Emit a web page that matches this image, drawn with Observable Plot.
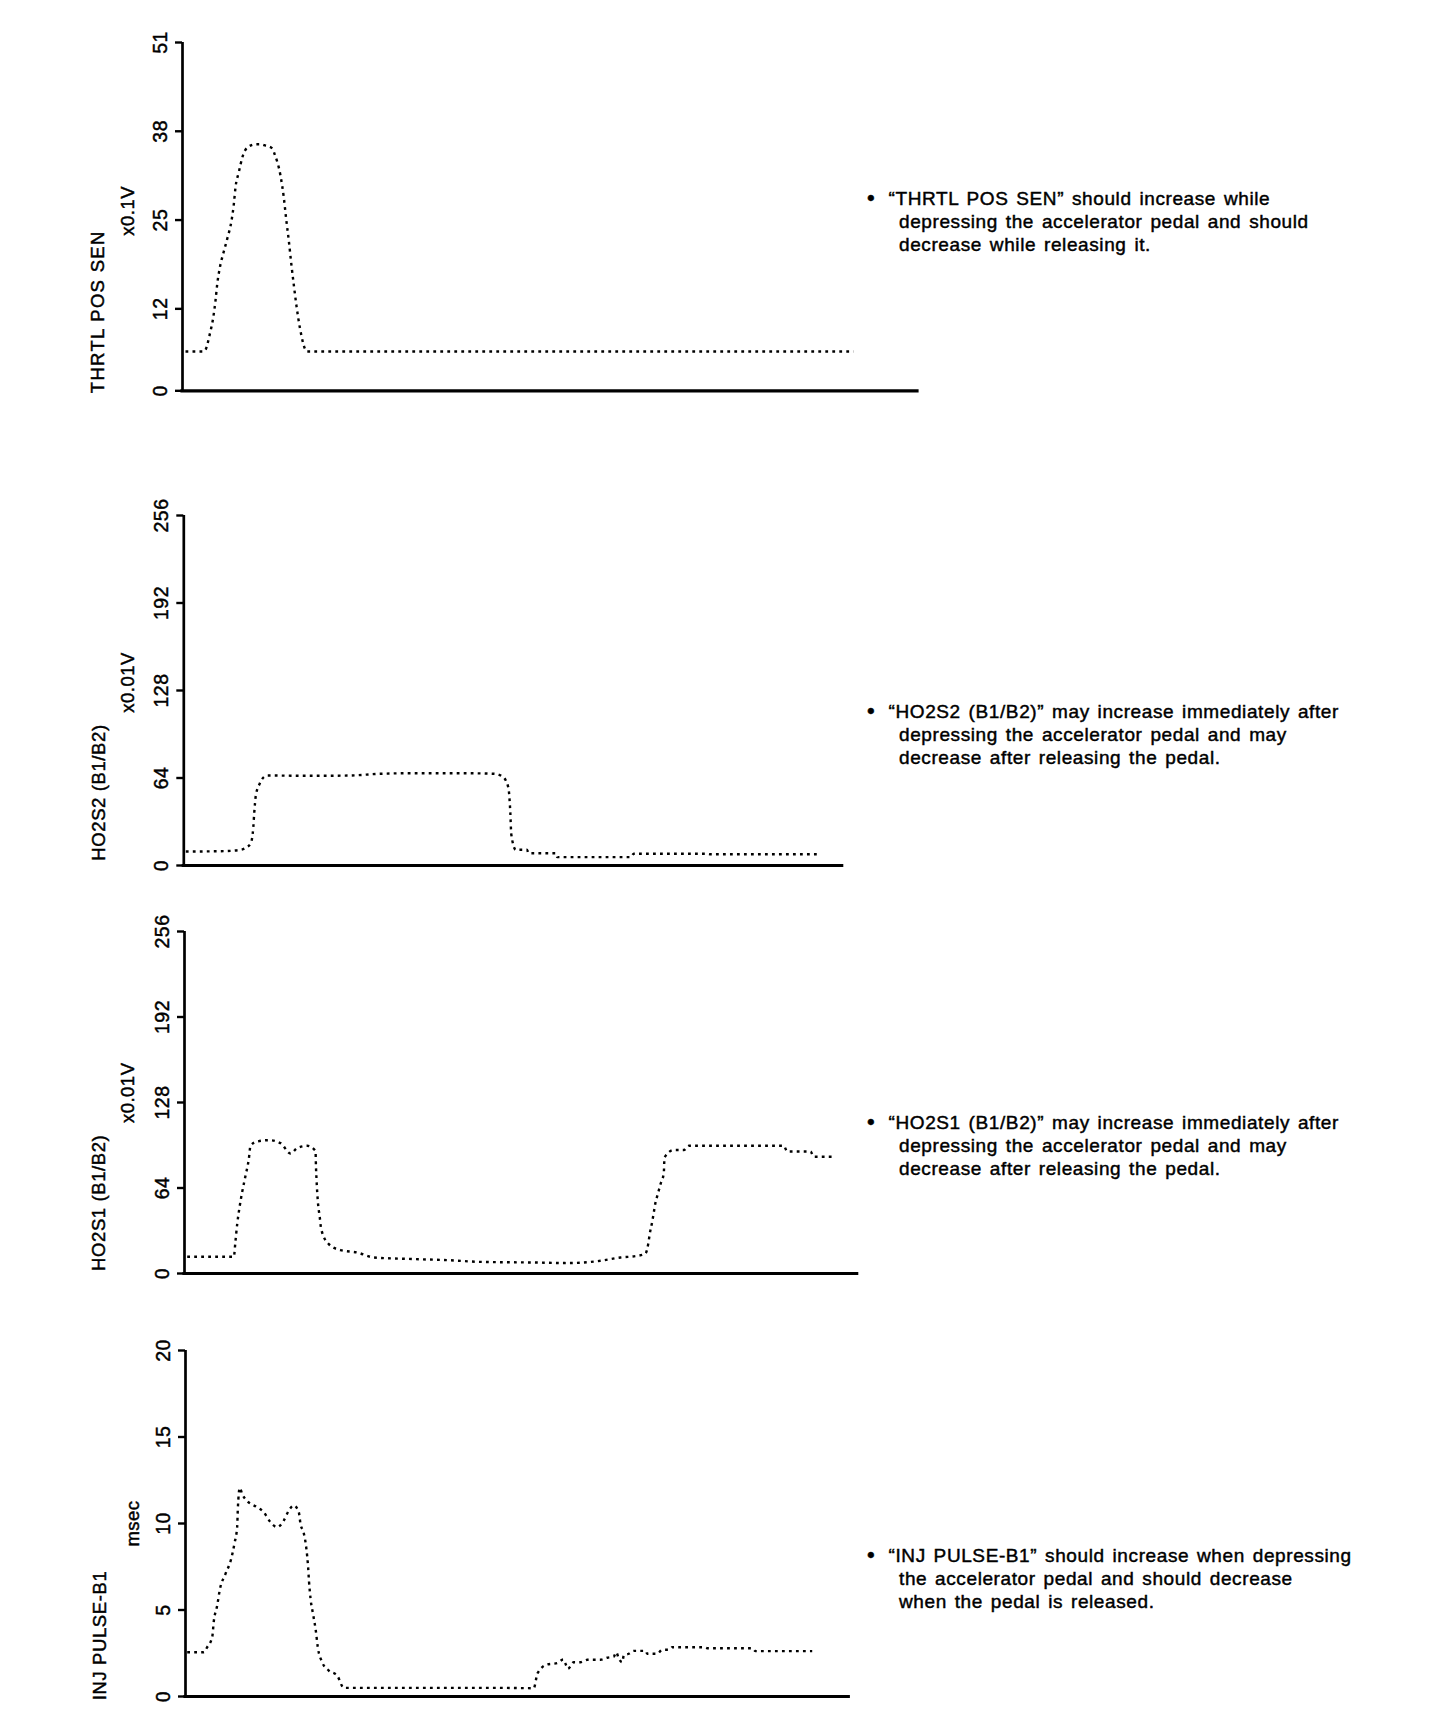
<!DOCTYPE html>
<html>
<head>
<meta charset="utf-8">
<script src="https://cdn.jsdelivr.net/npm/d3@7"></script>
<script src="https://cdn.jsdelivr.net/npm/@observablehq/plot@0.6"></script>
<style>
html, body { margin: 0; padding: 0; background: #fff; }
body { width: 1440px; height: 1732px; position: relative; overflow: hidden;
       font-family: "Liberation Sans", Arial, Helvetica, sans-serif; color: #000; }
.panel { position: absolute; left: 0; }
.panel svg text { stroke: #000; stroke-width: 0.45px; }
.note { position: absolute; font-size: 19px; line-height: 23px; letter-spacing: 0.6px;
        word-spacing: 2px; white-space: nowrap; -webkit-text-stroke: 0.45px #000; }
.note .line1 { margin-left: -10.5px; }
.note .bullet { position: absolute; left: -32px; top: -1px; font-size: 22px; }
</style>
</head>
<body>
<script>
// ---- data (time in sample units along each trace, value in the panel's unit) ----
const thrtlT = [3,21,23,27.3,30.7,33,34.7,37.3,41.3,45,49,51.3,53,56.3,60.3,64.7,73,78,83,89.7,92,98,101.3,103.7,106.3,108.7,111.3,114,117.3,124.7,671];
const thrtlV = [5.75,5.75,6.0,8.3,10.7,13.2,15.6,18.0,20.4,22.4,24.9,27.3,29.8,32.0,34.4,35.6,36.1,36.1,35.9,35.5,34.7,31.5,28.3,25.1,22.0,18.7,15.5,12.4,9.3,5.75,5.75];

const ho2s2T = [2,40,57,63,67,69.5,70.5,72,76,80,84,130,165,197,230,280,310,317,322,324,325,326.5,327.5,332,343,345,372,373.5,447,450,523,527,636];
const ho2s2V = [10.2,10.5,11.5,13.4,16.3,28,39,51,60,64.6,65.8,65.6,65.8,67.1,67.5,67.5,67.1,65.8,62.2,58.5,54.9,39,22.7,11.5,11.5,9.0,9.0,6.1,6.1,8.6,8.6,8.2,8.2];

const ho2s1T = [2.7,49.3,51,52.7,55,57.7,61,64.3,66,72.7,84.3,96,106,112.7,122.7,131,131.5,132,133.3,135.3,136.7,144.3,156,172.7,189.3,229.3,262.7,296,352.7,382.7,416,436,452.7,461,463.7,465.3,467.7,469.3,471,473.3,476,479.3,480,489.3,499.3,504.3,599.3,602.7,626,629.3,647.7];
const ho2s1V = [12.5,12.5,24.5,37,49.4,61.1,73.1,85.6,95.6,98.8,99.8,97.6,89.8,93.9,95.6,91.8,79.3,70.7,54.4,41.9,33.2,22,17.5,15.7,12,10.8,10,8.7,8.2,7.8,9.5,12,13.2,15,22,29.9,38.7,45.7,53.1,59.4,66.9,75.1,86.8,92.4,92.4,95.6,95.6,91.3,91.3,87.4,87.4];

const injT = [1.7,18.3,21.7,26.7,28.3,31.7,34.3,40,45.7,49,51.7,52.3,54.3,56.7,61.7,71.7,78.3,85,91.7,98.3,103.3,108.3,113.3,115,118.3,121,122.5,123.5,125,127.7,130.3,132.3,136.7,143.3,151.7,158.3,311.7,348.3,351,351.7,361.7,371.7,377.7,380,382.3,388.3,395,401.7,415,421.7,428.3,430.7,433.3,436.7,438.3,443.3,448.3,460,461.7,471.7,476.7,483.3,486.7,518.3,521.7,566.7,570,626.7];
const injV = [2.56,2.56,2.85,3.43,4.35,5.26,6.17,7.09,7.96,8.86,9.83,10.8,12.06,11.7,11.3,10.94,10.65,10.07,9.79,10.17,10.75,11.04,10.65,9.98,9.44,8.48,7.57,6.66,5.68,4.72,3.81,2.85,1.98,1.5,1.21,0.5,0.5,0.48,1.12,1.31,1.85,1.93,2.14,1.89,1.6,1.98,1.98,2.12,2.12,2.24,2.31,2.56,2.2,1.98,2.37,2.47,2.64,2.64,2.47,2.47,2.7,2.7,2.85,2.85,2.79,2.79,2.62,2.62];

const thrtlTicks = [0, 12, 25, 38, 51];
const ho2Ticks = [0, 64, 128, 192, 256];
const injTicks = [0, 5, 10, 15, 20];

const labels = ["THRTL POS SEN", "HO2S2 (B1/B2)", "HO2S1 (B1/B2)", "INJ PULSE-B1"];
const units = ["x0.1V", "x0.01V", "x0.01V", "msec"];

const notes = [
  ["\u201CTHRTL POS SEN\u201D should increase while", "depressing the accelerator pedal and should", "decrease while releasing it."],
  ["\u201CHO2S2 (B1/B2)\u201D may increase immediately after", "depressing the accelerator pedal and may", "decrease after releasing the pedal."],
  ["\u201CHO2S1 (B1/B2)\u201D may increase immediately after", "depressing the accelerator pedal and may", "decrease after releasing the pedal."],
  ["\u201CINJ PULSE-B1\u201D should increase when depressing", "the accelerator pedal and should decrease", "when the pedal is released."]
];

// ---- layout ----
const panels = [
  {t: thrtlT, v: thrtlV, ticks: thrtlTicks, span: 735,   axisX: 182,   top: 41.7,  bottom: 390,    xEnd: 917,
   labelX: 103, labelCY: 311, unitX: 133, unitCY: 210, noteBase: 205, labelSpacing: 1.3},
  {t: ho2s2T, v: ho2s2V, ticks: ho2Ticks,   span: 658.4, axisX: 183.3, top: 515,   bottom: 865,    xEnd: 841.7,
   labelX: 104, labelCY: 792, unitX: 133, unitCY: 682, noteBase: 718.3, labelSpacing: 0.6},
  {t: ho2s1T, v: ho2s1V, ticks: ho2Ticks,   span: 672.7, axisX: 184,   top: 930.7, bottom: 1272.7, xEnd: 856.7,
   labelX: 104, labelCY: 1202, unitX: 133, unitCY: 1092, noteBase: 1129.5, labelSpacing: 0.6},
  {t: injT,   v: injV,   ticks: injTicks,   span: 663.3, axisX: 185,   top: 1350,  bottom: 1696,   xEnd: 848.3,
   labelX: 105, labelCY: 1635, unitX: 138, unitCY: 1523, noteBase: 1562.3, labelSpacing: 0.6}
];

const M = 20;
panels.forEach((p, i) => {
  const data = p.t.map((t, k) => ({t, v: p.v[k]}));
  const yMax = p.ticks[p.ticks.length - 1];
  const chart = Plot.plot({
    width: 1440,
    height: (p.bottom - p.top) + 2 * M,
    marginTop: M,
    marginBottom: M,
    marginLeft: p.axisX,
    marginRight: 1440 - p.xEnd,
    style: {fontFamily: "'Liberation Sans', Arial, Helvetica, sans-serif", background: "white", color: "black", letterSpacing: "0.5px"},
    x: {domain: [0, p.span], axis: null},
    y: {domain: [0, yMax], axis: null},
    marks: [
      Plot.axisY({ticks: p.ticks, tickFormat: d => String(d), tickSize: 7, tickRotate: -90, tickPadding: 9,
                  fontSize: 19.5, strokeWidth: 2.4, label: null}),
      Plot.ruleX([0], {strokeWidth: 2.7, stroke: "black"}),
      Plot.ruleY([0], {strokeWidth: 3.2, stroke: "black", strokeLinecap: "square"}),
      Plot.line(data, {x: "t", y: "v", stroke: "black", strokeWidth: 2.4, strokeDasharray: "2.8,4.2",
                       strokeLinecap: "butt", curve: "monotone-x"}),
      Plot.text([labels[i]], {text: d => d, frameAnchor: "bottom-left", rotate: -90, textAnchor: "middle",
                 lineAnchor: "bottom", dx: p.labelX - p.axisX, dy: p.labelCY - p.bottom, fontSize: 18.5, fill: "black",
                 style: `letter-spacing:${p.labelSpacing}px`}),
      Plot.text([units[i]], {text: d => d, frameAnchor: "bottom-left", rotate: -90, textAnchor: "middle",
                 lineAnchor: "bottom", dx: p.unitX - p.axisX, dy: p.unitCY - p.bottom, fontSize: 18.5, fill: "black"})
    ]
  });
  chart.querySelectorAll("text").forEach(t => {
    if (t.textContent === labels[i]) t.style.letterSpacing = p.labelSpacing + "px";
  });
  const wrap = document.createElement("div");
  wrap.className = "panel";
  wrap.style.top = (p.top - M) + "px";
  wrap.appendChild(chart);
  document.body.appendChild(wrap);

  const note = document.createElement("div");
  note.className = "note";
  note.style.left = "899px";
  note.style.top = (p.noteBase - 18.1) + "px";
  const b = document.createElement("span");
  b.className = "bullet";
  b.textContent = "\u2022";
  note.appendChild(b);
  notes[i].forEach((line, k) => {
    const d = document.createElement("div");
    if (k === 0) d.className = "line1";
    d.textContent = line;
    note.appendChild(d);
  });
  document.body.appendChild(note);
});
</script>
</body>
</html>
